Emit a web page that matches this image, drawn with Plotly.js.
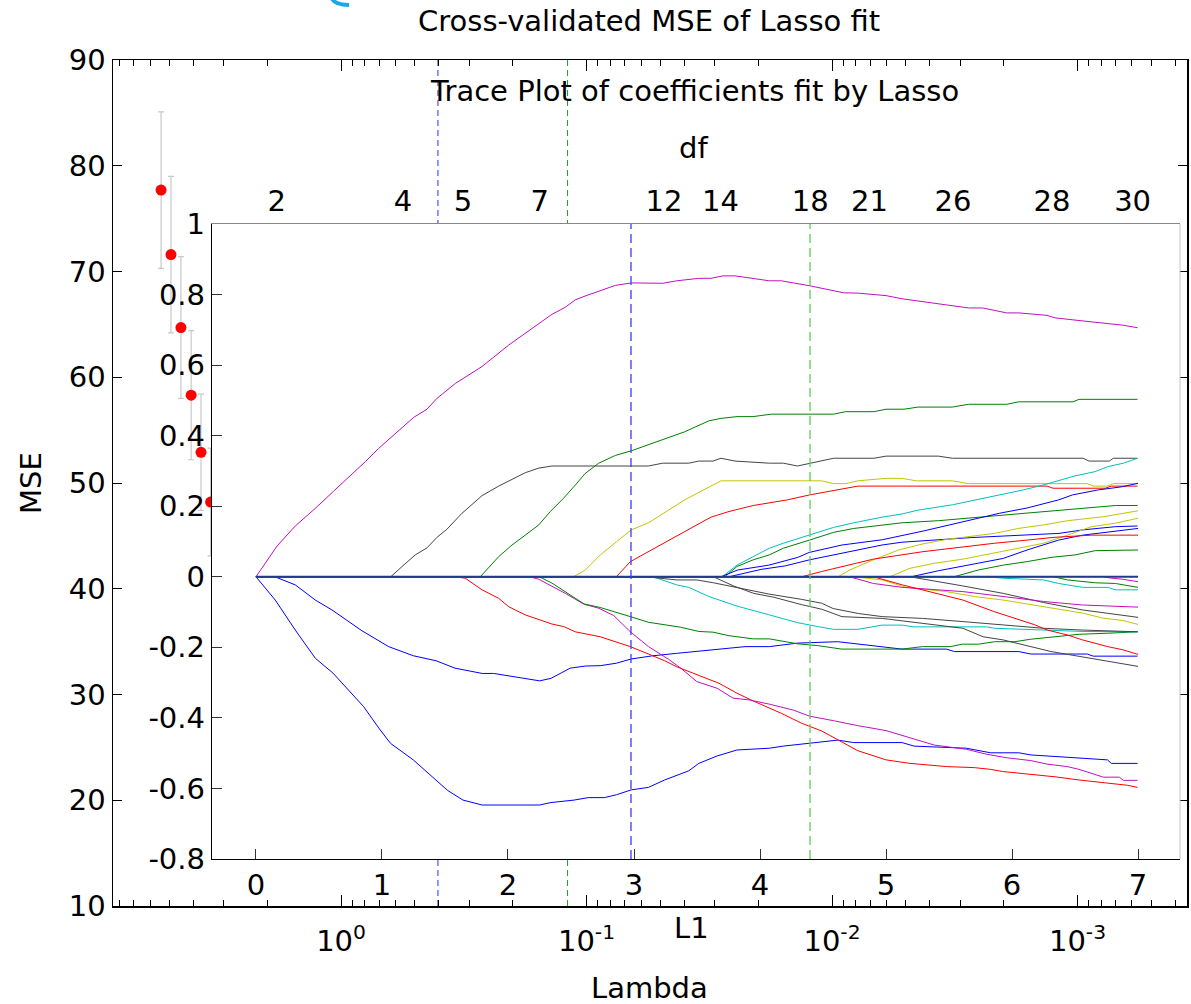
<!DOCTYPE html>
<html><head><meta charset="utf-8">
<script src="https://cdn.plot.ly/plotly-3.0.1.min.js"></script>
<style>html,body{margin:0;padding:0;background:#fff}#chart{width:1191px;height:1004px}</style>
</head><body><div id="chart"></div>
<script>
// ---------- Cross-validated MSE (outer plot) ----------
const cvLambda = [5.41, 4.93, 4.49, 4.08, 3.72, 3.40];
const cvMSE    = [77.7, 71.6, 64.7, 58.3, 52.9, 48.2];
const cvSE     = [7.4, 7.4, 6.7, 6.1, 5.5, 5.1];
const lambda1SE  = 0.403;
const lambdaMin  = 0.1195;
const lambdaTickVals = [1, 0.1, 0.01, 0.001];
const lambdaTickText = ['10<sup>0</sup>', '10<sup>-1</sup>', '10<sup>-2</sup>', '10<sup>-3</sup>'];
const mseTicks = [10, 20, 30, 40, 50, 60, 70, 80, 90];

// ---------- Trace plot (inner plot): coefficient paths vs L1 ----------
const L1_1SE = 2.976, L1_Min = 4.397;
const l1Ticks = [0, 1, 2, 3, 4, 5, 6, 7];
const coefTicks = [-0.8, -0.6, -0.4, -0.2, 0, 0.2, 0.4, 0.6, 0.8, 1];
const coefTickText = ['-0.8', '-0.6', '-0.4', '-0.2', '0', '0.2', '0.4', '0.6', '0.8', '1'];
const dfL1 = [0.164, 1.167, 1.643, 2.251, 3.238, 3.687, 4.399, 4.869, 5.532, 6.317, 6.957];
const dfLabels = ['2', '4', '5', '7', '12', '14', '18', '21', '26', '28', '30'];

const mag1_x = [0,0.167,0.312,0.471,0.617,0.736,0.867,0.974,1.066,1.159,1.252,1.357,1.437,1.582,1.714,1.794,2.006,2.244,2.349,2.455,2.534,2.613,2.852,2.979,3.227,3.339,3.514,3.610,3.706,3.802,4.074,4.169,4.393,4.664,4.776,5.0,5.127,5.655,5.766,5.958,6.054,6.278,6.341,6.516,6.706,6.884,6.996];
const mag1_y = [0,0.087,0.144,0.194,0.243,0.282,0.326,0.364,0.393,0.425,0.452,0.475,0.506,0.548,0.579,0.596,0.657,0.717,0.744,0.764,0.785,0.796,0.826,0.833,0.832,0.839,0.846,0.846,0.853,0.853,0.839,0.839,0.825,0.805,0.804,0.797,0.788,0.762,0.762,0.748,0.748,0.741,0.734,0.727,0.720,0.713,0.706];
const grn1_x = [0,1.78,1.926,2.032,2.137,2.244,2.336,2.442,2.534,2.613,2.720,2.852,2.978,3.211,3.402,3.594,3.690,3.817,3.944,4.090,4.584,4.680,4.904,5.0,5.143,5.254,5.527,5.655,5.958,6.054,6.484,6.532,6.996];
const grn1_y = [0,0,0.057,0.090,0.118,0.147,0.185,0.223,0.260,0.293,0.322,0.344,0.357,0.386,0.411,0.442,0.449,0.454,0.454,0.461,0.461,0.468,0.468,0.475,0.475,0.481,0.481,0.489,0.489,0.496,0.496,0.503,0.503];
const blk1_x = [0,1.07,1.159,1.264,1.357,1.437,1.516,1.635,1.794,1.926,2.137,2.244,2.349,3.115,3.227,3.435,3.514,3.627,3.690,3.802,4.074,4.185,4.297,4.409,4.584,4.904,5.0,5.415,5.527,6.563,6.611,6.772,6.804,6.996];
const blk1_y = [0,0,0.029,0.062,0.082,0.112,0.135,0.180,0.230,0.257,0.295,0.308,0.314,0.314,0.322,0.322,0.328,0.328,0.336,0.328,0.322,0.322,0.314,0.322,0.336,0.336,0.342,0.342,0.336,0.336,0.328,0.328,0.336,0.336];
const yel1_x = [0,2.52,2.613,2.733,2.860,2.978,3.115,3.243,3.402,3.690,4.489,4.584,4.680,4.776,5.0,5.127,5.239,5.527,5.655,6.597,6.644,6.756,6.804,6.996];
const yel1_y = [0,0,0.019,0.062,0.099,0.133,0.153,0.182,0.218,0.272,0.272,0.264,0.264,0.272,0.279,0.279,0.272,0.272,0.264,0.264,0.257,0.257,0.264,0.264];
const red1_x = [0,2.86,2.971,3.115,3.243,3.402,3.610,3.754,3.946,4.217,4.393,4.776,6.278,6.325,6.740,6.788,6.996];
const red1_y = [0,0,0.043,0.071,0.095,0.128,0.169,0.185,0.202,0.218,0.232,0.257,0.257,0.251,0.251,0.257,0.257];
const cyn1_x = [0,3.70,3.817,3.946,4.074,4.185,4.393,4.584,4.744,4.968,5.127,5.255,5.527,5.718,6.086,6.246,6.341,6.5,6.659,6.757,6.884,6.996];
const cyn1_y = [0,0,0.033,0.057,0.081,0.095,0.118,0.140,0.153,0.169,0.178,0.189,0.204,0.218,0.246,0.260,0.270,0.286,0.298,0.312,0.322,0.336];
const grn2_x = [0,3.72,3.817,3.946,4.074,4.185,4.393,4.584,4.744,4.968,5.127,5.415,5.638,5.798,6.117,6.341,6.532,6.820,6.996];
const grn2_y = [0,0,0.029,0.048,0.062,0.081,0.104,0.126,0.137,0.147,0.153,0.159,0.166,0.172,0.180,0.187,0.194,0.202,0.202];
const blu1_x = [0,3.69,3.82,4.07,4.30,4.39,4.65,4.97,5.3,5.6,5.9,6.12,6.37,6.48,6.68,6.87,7.0];
const blu1_y = [0,0,0.019,0.033,0.055,0.069,0.09,0.105,0.13,0.155,0.18,0.195,0.218,0.232,0.246,0.255,0.265];
const blu2_x = [0,3.754,4.010,4.202,4.393,4.648,4.968,5.127,5.671,6.373,6.563,6.820,6.996];
const blu2_y = [0,0,0.021,0.031,0.048,0.067,0.090,0.098,0.111,0.123,0.133,0.142,0.144];
const blu3_x = [0,5.2,5.415,5.93,6.12,6.37,6.56,7.0];
const blu3_y = [0,0,0.017,0.052,0.076,0.104,0.118,0.137];
const yel2_x = [0,4.62,4.71,4.90,5.10,5.29,5.48,5.64,5.86,6.05,6.25,6.44,6.56,6.72,7.0];
const yel2_y = [0,0,0.019,0.048,0.076,0.093,0.106,0.114,0.123,0.137,0.147,0.159,0.163,0.170,0.187];
const yel3_x = [0,5.03,5.19,5.38,5.61,5.86,6.05,6.25,6.44,6.63,6.82,7.0];
const yel3_y = [0,0,0.024,0.038,0.050,0.067,0.081,0.095,0.118,0.142,0.152,0.166];
const red2_x = [0,4.33,4.49,4.90,5.29,5.61,5.86,6.12,6.34,6.63,7.0];
const red2_y = [0,0,0.015,0.050,0.071,0.085,0.095,0.104,0.112,0.118,0.118];
const grn3_x = [0,5.54,5.73,5.93,6.12,6.31,6.50,6.66,7.0];
const grn3_y = [0,0,0.019,0.033,0.043,0.055,0.062,0.074,0.076];

const blu4_x = [0,0.153,0.312,0.471,0.611,0.854,0.975,1.067,1.248,1.431,1.522,1.643,1.795,2.251,2.341,2.524,2.637,2.764,2.860,2.978,3.115,3.243,3.435,3.514,3.659,3.817,4.074,4.185,4.393,4.617,4.744,5.127,5.223,5.638,5.830,6.054,6.149,6.5,6.757,6.788,6.996];
const blu4_y = [0,-0.066,-0.151,-0.231,-0.273,-0.368,-0.429,-0.472,-0.519,-0.576,-0.606,-0.633,-0.647,-0.647,-0.640,-0.633,-0.626,-0.626,-0.618,-0.604,-0.597,-0.576,-0.550,-0.529,-0.508,-0.491,-0.486,-0.480,-0.472,-0.463,-0.470,-0.470,-0.480,-0.486,-0.499,-0.499,-0.505,-0.514,-0.519,-0.529,-0.529];
const blu5_x = [0,0.15,0.312,0.471,0.603,0.709,0.841,1.053,1.250,1.429,1.579,1.795,1.886,2.251,2.341,2.494,2.615,2.732,2.860,2.978,3.148,3.339,3.498,3.690,3.882,4.074,4.297,4.617,4.776,4.936,5.127,5.479,5.543,6.054,6.149,6.597,6.644,6.996];
const blu5_y = [0,0,-0.023,-0.066,-0.094,-0.120,-0.153,-0.198,-0.224,-0.238,-0.259,-0.274,-0.274,-0.295,-0.288,-0.259,-0.253,-0.252,-0.245,-0.233,-0.224,-0.217,-0.212,-0.206,-0.198,-0.198,-0.188,-0.184,-0.191,-0.198,-0.205,-0.205,-0.212,-0.212,-0.219,-0.219,-0.225,-0.225];
const red3_x = [0,1.58,1.661,1.794,1.926,2.006,2.137,2.349,2.442,2.534,2.732,2.971,3.115,3.243,3.339,3.498,3.675,3.817,3.946,4.169,4.329,4.489,4.617,4.776,5.0,5.191,5.479,5.702,5.830,5.926,6.117,6.341,6.532,6.757,6.916,6.996];
const red3_y = [0,0,-0.004,-0.037,-0.061,-0.085,-0.108,-0.134,-0.141,-0.156,-0.170,-0.198,-0.219,-0.238,-0.255,-0.278,-0.302,-0.330,-0.352,-0.387,-0.415,-0.437,-0.462,-0.493,-0.519,-0.529,-0.538,-0.541,-0.546,-0.552,-0.559,-0.567,-0.576,-0.584,-0.591,-0.597];
const mag2_x = [0,2.17,2.244,2.349,2.455,2.604,2.72,2.84,2.971,3.115,3.275,3.371,3.498,3.659,3.786,3.913,4.074,4.265,4.393,4.584,4.776,5.0,5.191,5.383,5.638,5.798,5.958,6.149,6.278,6.437,6.532,6.597,6.725,6.852,6.884,6.996];
const mag2_y = [0,0,-0.007,-0.026,-0.047,-0.078,-0.089,-0.11,-0.156,-0.198,-0.234,-0.259,-0.297,-0.316,-0.344,-0.349,-0.361,-0.378,-0.395,-0.408,-0.422,-0.436,-0.456,-0.477,-0.489,-0.503,-0.513,-0.521,-0.531,-0.538,-0.546,-0.554,-0.568,-0.568,-0.577,-0.577];
const grn4_x = [0,2.25,2.349,2.455,2.604,2.732,2.852,2.971,3.115,3.371,3.514,3.627,3.754,3.946,4.074,4.297,4.456,4.648,5.127,5.288,5.510,5.606,5.734,5.862,6.021,6.149,6.341,6.532,6.757,6.996];
const grn4_y = [0,0,-0.018,-0.042,-0.077,-0.087,-0.099,-0.113,-0.129,-0.143,-0.155,-0.157,-0.167,-0.176,-0.176,-0.190,-0.195,-0.205,-0.205,-0.198,-0.198,-0.191,-0.191,-0.184,-0.184,-0.177,-0.170,-0.163,-0.160,-0.156];
const cyn2_x = [0,3.15,3.339,3.435,3.594,3.817,4.074,4.297,4.456,4.584,4.776,4.968,5.127,5.223,5.798,5.862,6.563,6.996];
const cyn2_y = [0,0,-0.023,-0.030,-0.056,-0.083,-0.108,-0.130,-0.141,-0.149,-0.149,-0.137,-0.137,-0.142,-0.142,-0.146,-0.155,-0.156];
const blk2_x = [0,2.89,3.15,3.34,3.50,3.63,3.82,4.07,4.33,4.49,4.58,4.78,4.97,5.29,5.61,5.93,6.25,6.56,7.0];
const blk2_y = [0,0,-0.002,-0.009,-0.009,-0.017,-0.030,-0.049,-0.064,-0.075,-0.09,-0.104,-0.113,-0.118,-0.127,-0.137,-0.146,-0.151,-0.156];
const blk3_x = [0,3.63,3.79,3.95,4.11,4.33,4.49,4.65,4.97,5.29,5.61,5.77,5.93,6.31,6.56,6.82,7.0];
const blk3_y = [0,0,-0.026,-0.047,-0.058,-0.079,-0.092,-0.113,-0.118,-0.131,-0.146,-0.170,-0.179,-0.212,-0.227,-0.244,-0.254];
const blk4_x = [0,5.19,5.61,5.93,6.25,6.56,7.0];
const blk4_y = [0,0,-0.026,-0.047,-0.073,-0.094,-0.115];
const yel4_x = [0,4.75,4.97,5.16,5.48,5.70,5.93,6.12,6.34,6.56,6.72,6.88,7.0];
const yel4_y = [0,0,-0.009,-0.030,-0.042,-0.056,-0.066,-0.077,-0.089,-0.103,-0.117,-0.124,-0.135];
const mag3_x = [0,4.71,4.90,5.13,5.61,5.93,6.25,6.56,7.0];
const mag3_y = [0,0,-0.019,-0.030,-0.042,-0.056,-0.070,-0.080,-0.086];
const red4_x = [0,4.90,5.13,5.35,5.61,5.86,6.05,6.18,6.28,6.44,6.56,6.66,6.76,6.88,7.0];
const red4_y = [0,0,-0.023,-0.042,-0.066,-0.099,-0.120,-0.136,-0.151,-0.165,-0.179,-0.189,-0.198,-0.207,-0.220];
const cyn3_x = [0,5.80,5.93,6.25,6.37,6.56,6.76,6.82,7.0];
const cyn3_y = [0,0,-0.004,-0.009,-0.019,-0.030,-0.030,-0.037,-0.037];
const grn5_x = [0,6.33,6.44,6.66,6.82,7.0];
const grn5_y = [0,0,-0.009,-0.017,-0.019,-0.030];
const mag4_x = [0,6.72,6.79,6.88,7.0];
const mag4_y = [0,0,-0.004,-0.007,-0.014];
const zero_x = [0, 7.0];
const zero_y = [0, 0];

// ---------- styles ----------
const C = {b:'#0000ff', g:'#008000', r:'#ff0000', c:'#00bfbf', m:'#c010c0', y:'#c4c400', k:'#454545'};
const FONT = 'DejaVu Sans';
const W = 1191, H = 1004;
const px = v => v / W, py = v => 1 - v / H;

const paths = [
  [mag1_x, mag1_y, C.m], [grn1_x, grn1_y, C.g], [blk1_x, blk1_y, C.k], [yel1_x, yel1_y, C.y],
  [red1_x, red1_y, C.r], [cyn1_x, cyn1_y, C.c], [grn2_x, grn2_y, C.g], [blu1_x, blu1_y, C.b],
  [blu2_x, blu2_y, C.b], [blu3_x, blu3_y, C.b], [yel2_x, yel2_y, C.y], [yel3_x, yel3_y, C.y],
  [red2_x, red2_y, C.r], [grn3_x, grn3_y, C.g],
  [blu4_x, blu4_y, C.b], [blu5_x, blu5_y, C.b], [red3_x, red3_y, C.r], [mag2_x, mag2_y, C.m],
  [grn4_x, grn4_y, C.g], [cyn2_x, cyn2_y, C.c], [blk2_x, blk2_y, C.k], [blk3_x, blk3_y, C.k],
  [blk4_x, blk4_y, C.k], [yel4_x, yel4_y, C.y], [mag3_x, mag3_y, C.m], [red4_x, red4_y, C.r],
  [cyn3_x, cyn3_y, C.c], [grn5_x, grn5_y, C.g], [mag4_x, mag4_y, C.m]
];

const traces = [];
// outer plot: CV dashed lines + MSE points
traces.push({x:[lambda1SE, lambda1SE], y:[mseTicks[0], mseTicks[mseTicks.length-1]], xaxis:'x', yaxis:'y', mode:'lines',
  line:{color:'#2a2aff', width:1, dash:'6px,4px'}, hoverinfo:'skip'});
traces.push({x:[lambdaMin, lambdaMin], y:[mseTicks[0], mseTicks[mseTicks.length-1]], xaxis:'x', yaxis:'y', mode:'lines',
  line:{color:'#1f9a1f', width:1, dash:'6px,4px'}, hoverinfo:'skip'});
traces.push({x:cvLambda, y:cvMSE, xaxis:'x', yaxis:'y', mode:'markers',
  marker:{color:'#ff0000', size:11, line:{width:0}},
  error_y:{type:'data', array:cvSE, visible:true, color:'#c8c8c8', thickness:1.2, width:3}});
// inner plot
paths.forEach(p => traces.push({x:p[0], y:p[1], xaxis:'x2', yaxis:'y2', mode:'lines',
  line:{color:p[2], width:1}, hoverinfo:'skip'}));
traces.push({x:zero_x, y:zero_y, xaxis:'x2', yaxis:'y2', mode:'lines', line:{color:'#1f3c8c', width:2}});
traces.push({x:[L1_1SE, L1_1SE], y:[coefTicks[0], coefTicks[coefTicks.length-1]], xaxis:'x2', yaxis:'y2', mode:'lines',
  line:{color:'#3a3aff', width:1.3, dash:'9px,5px'}});
traces.push({x:[L1_Min, L1_Min], y:[coefTicks[0], coefTicks[coefTicks.length-1]], xaxis:'x2', yaxis:'y2', mode:'lines',
  line:{color:'#5ccc5c', width:1.3, dash:'9px,5px'}});
// df axis carrier
traces.push({x:[], y:[], xaxis:'x3', yaxis:'y2', mode:'lines', showlegend:false});

const minorVals = [];
[0, -1, -2, -3, -4].forEach(e => { for (let d = 2; d <= 9; d++) minorVals.push(d * Math.pow(10, e)); });

const l1Range = [-0.349, 7.333];
const layout = {
  width: W, height: H, margin:{l:0, r:0, t:0, b:0}, showlegend:false,
  paper_bgcolor:'#ffffff', plot_bgcolor:'#ffffff',
  font:{family:FONT, size:29, color:'#000'},
  xaxis:{type:'log', domain:[px(113), px(1187)], range:[0.929, -3.446], anchor:'y',
    tickmode:'array', tickvals:lambdaTickVals, ticktext:lambdaTickText,
    ticks:'inside', ticklen:11, tickwidth:1, tickcolor:'#000',
    showline:true, linecolor:'#000', linewidth:1.5, mirror:'ticks',
    showgrid:false, zeroline:false, ticklabelstandoff:9,
    minor:{tickvals:minorVals, ticks:'inside', ticklen:6, tickwidth:1, tickcolor:'#000', showgrid:false},
    tickfont:{size:29}},
  yaxis:{domain:[1 - 906/H, 1 - 60/H], range:[10, 90], anchor:'x',
    tickmode:'array', tickvals:mseTicks,
    ticks:'inside', ticklen:9, tickwidth:1, tickcolor:'#000',
    showline:true, linecolor:'#000', linewidth:1.5, mirror:'ticks',
    showgrid:false, zeroline:false, tickfont:{size:29}},
  xaxis2:{domain:[px(212), px(1180)], range:l1Range, anchor:'y2',
    tickmode:'array', tickvals:l1Ticks,
    ticks:'inside', ticklen:10, tickwidth:1, tickcolor:'#333',
    showline:true, linecolor:'#000', linewidth:1.2, mirror:false,
    showgrid:false, zeroline:false, tickfont:{size:29}},
  yaxis2:{domain:[1 - 859/H, 1 - 224/H], range:[-0.8, 1], anchor:'x2',
    tickmode:'array', tickvals:coefTicks, ticktext:coefTickText,
    ticks:'inside', ticklen:10, tickwidth:1, tickcolor:'#333',
    showline:true, linecolor:'#000', linewidth:1.2, mirror:false,
    showgrid:false, zeroline:false, tickfont:{size:29}},
  xaxis3:{overlaying:'x2', anchor:'y2', side:'top', range:l1Range,
    tickmode:'array', tickvals:dfL1, ticktext:dfLabels, ticks:'',
    showline:true, linecolor:'#888', linewidth:1,
    showgrid:false, zeroline:false, tickfont:{size:29}},
  shapes:[
    {type:'line', xref:'x2 domain', yref:'y2 domain', x0:1, x1:1, y0:0, y1:1, line:{color:'#c4c4c4', width:1}},
    {type:'path', xref:'paper', yref:'paper',
     path:'M ' + px(331) + ',' + py(-3) + ' Q ' + px(334) + ',' + py(5) + ' ' + px(349) + ',' + py(5),
     line:{color:'#1aa7e6', width:4}}
  ],
  annotations:[
    {text:'Cross-validated MSE of Lasso fit', xref:'paper', yref:'paper', x:px(649), y:py(21.5), xanchor:'center', yanchor:'middle', showarrow:false, font:{size:29}},
    {text:'Trace Plot of coefficients fit by Lasso', xref:'paper', yref:'paper', x:px(694), y:py(90.5), xanchor:'center', yanchor:'middle', showarrow:false, font:{size:29}},
    {text:'df', xref:'paper', yref:'paper', x:px(693), y:py(148.5), xanchor:'center', yanchor:'middle', showarrow:false, font:{size:29}},
    {text:'L1', xref:'paper', yref:'paper', x:px(692), y:py(927.5), xanchor:'center', yanchor:'middle', showarrow:false, font:{size:29}},
    {text:'Lambda', xref:'paper', yref:'paper', x:px(649), y:py(987.5), xanchor:'center', yanchor:'middle', showarrow:false, font:{size:29}},
    {text:'MSE', xref:'paper', yref:'paper', x:px(31), y:py(483), xanchor:'center', yanchor:'middle', textangle:-90, showarrow:false, font:{size:29}}
  ]
};

Plotly.newPlot('chart', traces, layout, {staticPlot:true, displayModeBar:false});
</script></body></html>
